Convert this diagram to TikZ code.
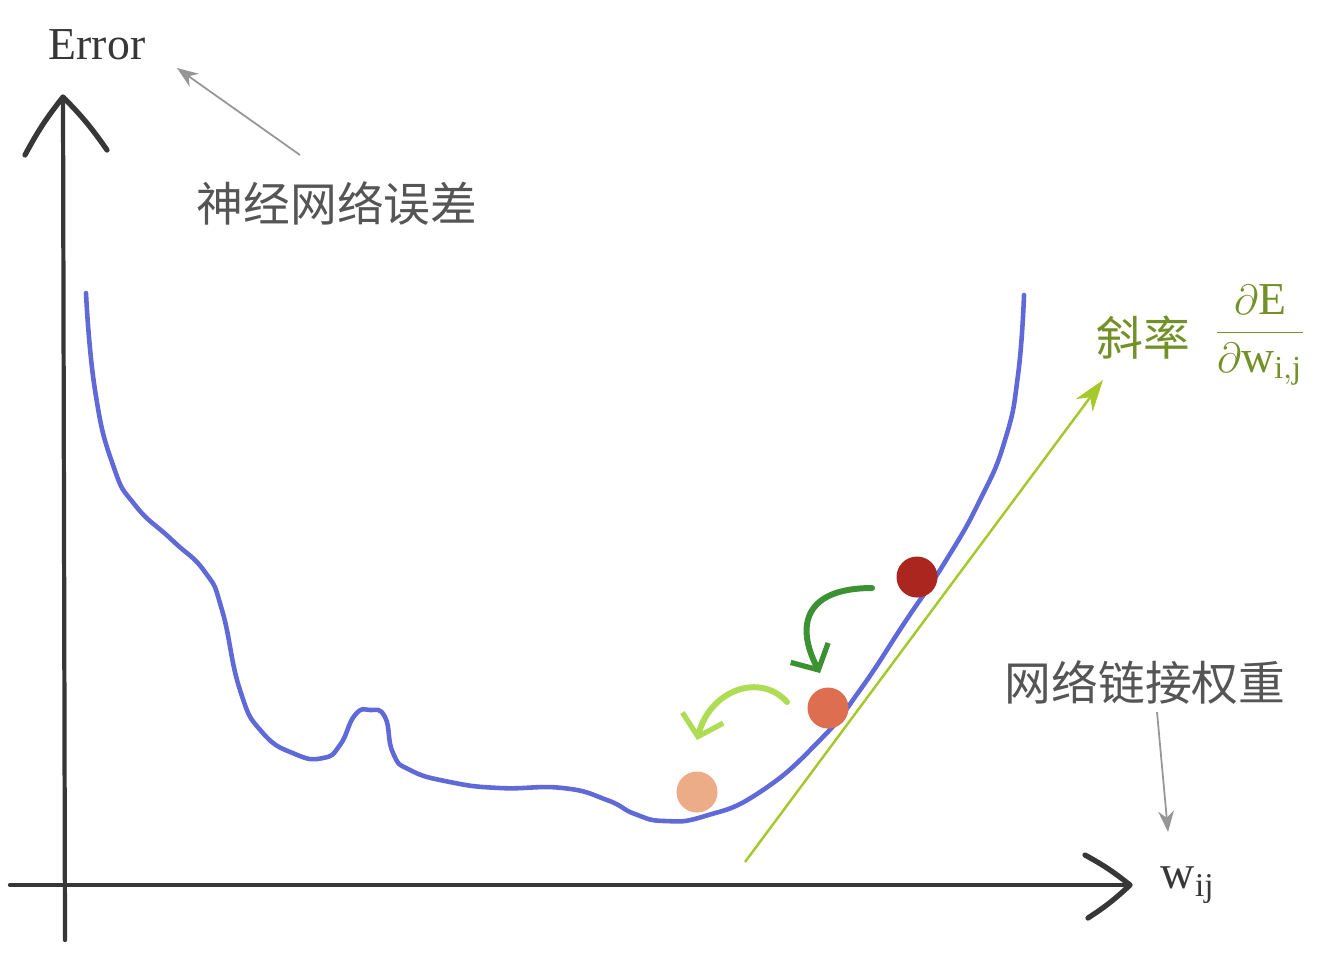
\documentclass[tikz,border=0pt]{standalone}
\usepackage{fontspec}
\setmainfont{Liberation Serif}
\newfontfamily\cjk{Noto Sans CJK SC}
\usetikzlibrary{arrows.meta}

\definecolor{errblue}{RGB}{95,105,215}
\definecolor{slopegreen}{RGB}{165,200,45}
\definecolor{slopetext}{RGB}{115,145,40}
\definecolor{stepdark}{RGB}{60,145,50}
\definecolor{steplight}{RGB}{175,220,85}
\definecolor{ballA}{RGB}{170,38,30}
\definecolor{ballB}{RGB}{222,110,80}
\definecolor{ballC}{RGB}{236,172,135}
\definecolor{axisgray}{RGB}{55,55,55}
\definecolor{notegray}{RGB}{85,85,85}
\definecolor{pointgray}{RGB}{150,150,150}

\begin{document}
\begin{tikzpicture}[x=0.01cm, y=-0.01cm,
    axis/.style={axisgray, line width=1.2pt, line cap=round},
    chevron/.style={axisgray, line width=1.5pt, line cap=round, line join=round},
    note/.style={notegray, font=\cjk\fontsize{13.3}{16}\selectfont},
    pointer/.style={pointgray, line width=0.5pt, -{Stealth[length=6pt, width=4.5pt]}},
    ball/.style={circle, inner sep=0pt, minimum size=0.41cm},
    hop/.style={line width=1.7pt, line cap=round,
      -{Straight Barb[length=5.5pt, width=12pt, line width=1.5pt]}}]

  \useasboundingbox (0,0) rectangle (1331,959);

  % axes
  \coordinate (origin) at (65,885);
  \coordinate (ytip) at (63,97);
  \coordinate (xtip) at (1130,885);
  \draw[axis] (65,940) -- (ytip);
  \draw[axis] (10,885) -- (xtip);
  \draw[chevron] (25,155) to[bend left=5] (ytip) to[bend left=5] (107,150);
  \draw[chevron] (1085,855) to[bend left=5] (xtip) to[bend left=5] (1088,918);

  % error curve
  \draw[errblue, line width=1.3pt, line cap=round] plot[smooth, tension=0.85] coordinates {
    (86,293) (95,390) (113,465) (135,505) (172,540) (205,572)
    (222,610) (240,690) (262,732) (295,754) (323,758) (340,745) (355,715)
    (370,710) (385,717) (393,753) (410,770) (450,782) (500,788) (563,788)
    (607,800) (635,814) (665,821) (705,816) (760,792) (820,740) (860,690)
    (905,622) (945,562) (980,500) (1005,440) (1018,375) (1024,295)};

  % tangent
  \coordinate (slope-foot) at (745,862);
  \coordinate (slope-head) at (1103,380);
  \draw[slopegreen, line width=0.7pt, -{Stealth[length=9pt, width=6pt]}] (slope-foot) -- (slope-head);

  % balls
  \foreach \name/\pos/\col in {ball1/{(917,577)}/ballA, ball2/{(828,708)}/ballB, ball3/{(697,792)}/ballC}{
    \node[ball, fill=\col] (\name) at \pos {};
  }

  % steps
  \coordinate (hop1-start) at (872,588);
  \coordinate (hop1-end) at (820,673);
  \coordinate (hop2-start) at (787,702);
  \coordinate (hop2-end) at (697,740);
  \draw[hop, stepdark] (hop1-start) .. controls (805,588) and (795,625) .. (hop1-end);
  \draw[hop, steplight] (hop2-start) .. controls (760,672) and (710,690) .. (hop2-end);

  % labels
  \node[axisgray, font=\fontsize{13}{15}\selectfont] (err) at (97,45) {Error};
  \node[note] (nnerr) at (337,203) {神经网络误差};
  \node[note] (wlink) at (1145,683) {网络链接权重};
  \node[axisgray, font=\fontsize{13.5}{16}\selectfont] (wij) at (1188,885) {w\textsubscript{ij}};
  \node[slopetext, font=\cjk\fontsize{13.3}{16}\selectfont] (slope) at (1143,338) {斜率};
  \node[slopetext, font=\fontsize{13}{15}\selectfont] (dedw) at (1260,335)
    {$\displaystyle\frac{\partial\mathrm{E}}{\partial\mathrm{w}_{\mathrm{i,j}}}$};

  % pointers
  \coordinate (nnerr-tail) at (300,155);
  \coordinate (err-tip) at (177,68);
  \coordinate (wlink-tail) at (1157,712);
  \coordinate (wij-tip) at (1168,832);
  \draw[pointer] (nnerr-tail) -- (err-tip);
  \draw[pointer] (wlink-tail) -- (wij-tip);

\end{tikzpicture}
\end{document}
